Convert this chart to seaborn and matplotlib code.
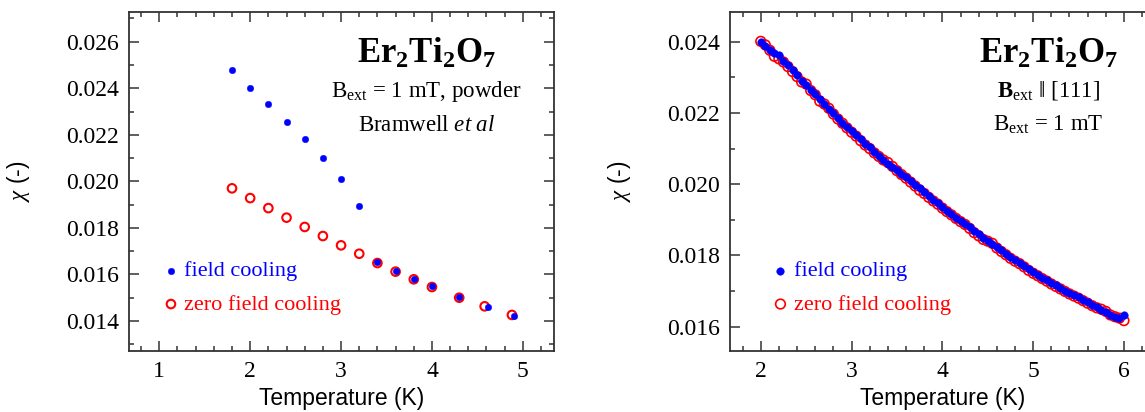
import matplotlib
matplotlib.use("Agg")
import matplotlib.pyplot as plt
import seaborn as sns
from matplotlib.ticker import MultipleLocator, FormatStrFormatter

# left panel: powder, Bramwell et al
T_fc_pow = [1.8, 2.0, 2.2, 2.4, 2.6, 2.8, 3.0, 3.2, 3.4, 3.6, 3.8, 4.0, 4.3, 4.62, 4.9]
chi_fc_pow = [0.02480, 0.02401, 0.02331, 0.02255, 0.02183, 0.02102, 0.02011, 0.01895,
              0.01653, 0.01615, 0.01582, 0.01552, 0.01505, 0.01459, 0.01423]
T_zfc_pow = [1.8, 2.0, 2.2, 2.4, 2.6, 2.8, 3.0, 3.2, 3.4, 3.6, 3.8, 4.0, 4.3, 4.58, 4.88]
chi_zfc_pow = [0.01970, 0.01928, 0.01885, 0.01844, 0.01804, 0.01765, 0.01725, 0.01689,
               0.01649, 0.01612, 0.01579, 0.01546, 0.01500, 0.01463, 0.01426]

# right panel: B || [111]
T_111 = [2.00, 2.05, 2.10, 2.15, 2.20, 2.25, 2.30, 2.35, 2.40, 2.45,
         2.50, 2.55, 2.60, 2.65, 2.70, 2.75, 2.80, 2.85, 2.90, 2.95,
         3.00, 3.05, 3.10, 3.15, 3.20, 3.25, 3.30, 3.35, 3.40, 3.45,
         3.50, 3.55, 3.60, 3.65, 3.70, 3.75, 3.80, 3.85, 3.90, 3.95,
         4.00, 4.05, 4.10, 4.15, 4.20, 4.25, 4.30, 4.35, 4.40, 4.45,
         4.50, 4.55, 4.60, 4.65, 4.70, 4.75, 4.80, 4.85, 4.90, 4.95,
         5.00, 5.05, 5.10, 5.15, 5.20, 5.25, 5.30, 5.35, 5.40, 5.45,
         5.50, 5.55, 5.60, 5.65, 5.70, 5.75, 5.80, 5.85, 5.90, 5.95, 6.00]
chi_fc_111 = [0.02400, 0.02389, 0.02378, 0.02368, 0.02364, 0.02347, 0.02334, 0.02320, 0.02306, 0.02291,
              0.02279, 0.02265, 0.02252, 0.02238, 0.02224, 0.02212, 0.02199, 0.02186, 0.02173, 0.02161,
              0.02149, 0.02138, 0.02126, 0.02114, 0.02103, 0.02091, 0.02079, 0.02068, 0.02058, 0.02049,
              0.02040, 0.02030, 0.02020, 0.02009, 0.01998, 0.01988, 0.01978, 0.01967, 0.01956, 0.01946,
              0.01936, 0.01926, 0.01916, 0.01906, 0.01897, 0.01888, 0.01879, 0.01869, 0.01860, 0.01849,
              0.01841, 0.01832, 0.01823, 0.01814, 0.01805, 0.01797, 0.01788, 0.01779, 0.01771, 0.01762,
              0.01753, 0.01745, 0.01738, 0.01731, 0.01724, 0.01716, 0.01709, 0.01701, 0.01694, 0.01688,
              0.01682, 0.01675, 0.01668, 0.01661, 0.01655, 0.01648, 0.01642, 0.01634, 0.01627, 0.01624, 0.01633]
chi_zfc_111 = [0.02401, 0.02391, 0.02376, 0.02359, 0.02352, 0.02343, 0.02330, 0.02316, 0.02302, 0.02287,
               0.02281, 0.02263, 0.02251, 0.02233, 0.02225, 0.02213, 0.02197, 0.02183, 0.02171, 0.02158,
               0.02146, 0.02135, 0.02122, 0.02110, 0.02100, 0.02088, 0.02078, 0.02068, 0.02061, 0.02050,
               0.02038, 0.02027, 0.02017, 0.02006, 0.01995, 0.01983, 0.01974, 0.01963, 0.01953, 0.01944,
               0.01933, 0.01923, 0.01914, 0.01904, 0.01895, 0.01887, 0.01876, 0.01864, 0.01855, 0.01845,
               0.01840, 0.01834, 0.01821, 0.01811, 0.01802, 0.01792, 0.01784, 0.01777, 0.01768, 0.01758,
               0.01750, 0.01743, 0.01735, 0.01728, 0.01720, 0.01713, 0.01706, 0.01699, 0.01692, 0.01686,
               0.01680, 0.01673, 0.01666, 0.01659, 0.01653, 0.01649, 0.01643, 0.01633, 0.01628, 0.01624, 0.01617]

sns.set_style("ticks")
plt.rcParams['font.family'] = ['Liberation Serif', 'DejaVu Serif']
plt.rcParams['mathtext.fontset'] = 'custom'
plt.rcParams['mathtext.rm'] = 'Liberation Serif'
plt.rcParams['mathtext.it'] = 'Liberation Serif:italic'
plt.rcParams['mathtext.bf'] = 'Liberation Serif:bold'
plt.rcParams['text.color'] = 'black'
plt.rcParams['axes.labelcolor'] = 'black'

fig = plt.figure(figsize=(11.45, 4.12), dpi=100)
ax1 = fig.add_axes([0.1127, 0.1481, 0.3709, 0.8235])
ax2 = fig.add_axes([0.6376, 0.1481, 0.3709, 0.8235])


def scatter_pair(ax, tf, cf, tz, cz, sf, sz, lwz):
    sns.scatterplot(x=tz, y=cz, ax=ax, marker='o', s=sz, facecolor='none',
                    edgecolor='red', linewidth=lwz, label='zero field cooling', zorder=3)
    sns.scatterplot(x=tf, y=cf, ax=ax, marker='o', s=sf, color='blue',
                    edgecolor='blue', linewidth=0.3, label='field cooling', zorder=4)
    h, l = ax.get_legend_handles_labels()
    return h[::-1], l[::-1]


def style_axes(ax, xlim, ylim, ymajor):
    ax.set_xlim(*xlim)
    ax.set_ylim(*ylim)
    ax.xaxis.set_major_locator(MultipleLocator(1))
    ax.xaxis.set_minor_locator(MultipleLocator(0.2))
    ax.yaxis.set_major_locator(MultipleLocator(ymajor))
    ax.yaxis.set_minor_locator(MultipleLocator(0.001))
    ax.yaxis.set_major_formatter(FormatStrFormatter('%.3f'))
    ax.tick_params(which='both', direction='in', top=True, right=True,
                   color='#333333', labelcolor='black', width=1.1, labelsize=17)
    ax.tick_params(which='major', length=7.5, pad=7)
    ax.tick_params(which='minor', length=3.8)
    for sp in ax.spines.values():
        sp.set_color('#333333')
        sp.set_linewidth(1.3)
    ax.set_xlabel('Temperature (K)', fontfamily='Liberation Sans', fontsize=16.5, labelpad=4)
    ax.set_ylabel(r'$\chi$ (-)', fontfamily='Liberation Sans', fontsize=16.5, labelpad=25)


def put_legend(ax, handles, labels, x):
    leg = ax.legend(handles, labels, loc='center left', bbox_to_anchor=(x, 0.186),
                    frameon=False, fontsize=16, handlelength=0.6, handletextpad=0.3,
                    borderpad=0, borderaxespad=0, labelspacing=0.58)
    for txt, c in zip(leg.get_texts(), ['blue', 'red']):
        txt.set_color(c)


# left panel
h, l = scatter_pair(ax1, T_fc_pow, chi_fc_pow, T_zfc_pow, chi_zfc_pow, 22, 38, 1.5)
style_axes(ax1, (0.667, 5.34), (0.012711, 0.027289), 0.002)
put_legend(ax1, h, l, 0.083)
ax1.text(0.70, 0.848, r'$\mathbf{Er_2Ti_2O_7}$', transform=ax1.transAxes,
         ha='center', va='baseline', fontsize=25)
ax1.text(0.70, 0.749, r'B$_\mathrm{ext}$ = 1 mT, powder', transform=ax1.transAxes,
         ha='center', va='baseline', fontsize=16.5)
ax1.text(0.70, 0.648, r'Bramwell $\mathit{et\ al}$', transform=ax1.transAxes,
         ha='center', va='baseline', fontsize=16.5)

# right panel
h, l = scatter_pair(ax2, T_111, chi_fc_111, T_111, chi_zfc_111, 30, 48, 1.2)
style_axes(ax2, (1.662, 6.339), (0.015318, 0.024842), 0.002)
put_legend(ax2, h, l, 0.103)
ax2.text(0.75, 0.848, r'$\mathbf{Er_2Ti_2O_7}$', transform=ax2.transAxes,
         ha='center', va='baseline', fontsize=25)
ax2.text(0.75, 0.749, r'$\mathbf{B}_\mathrm{ext}$ $\Vert$ [111]', transform=ax2.transAxes,
         ha='center', va='baseline', fontsize=16.5)
ax2.text(0.75, 0.648, r'B$_\mathrm{ext}$ = 1 mT', transform=ax2.transAxes,
         ha='center', va='baseline', fontsize=16.5)

fig.savefig('out.png', dpi=100)
